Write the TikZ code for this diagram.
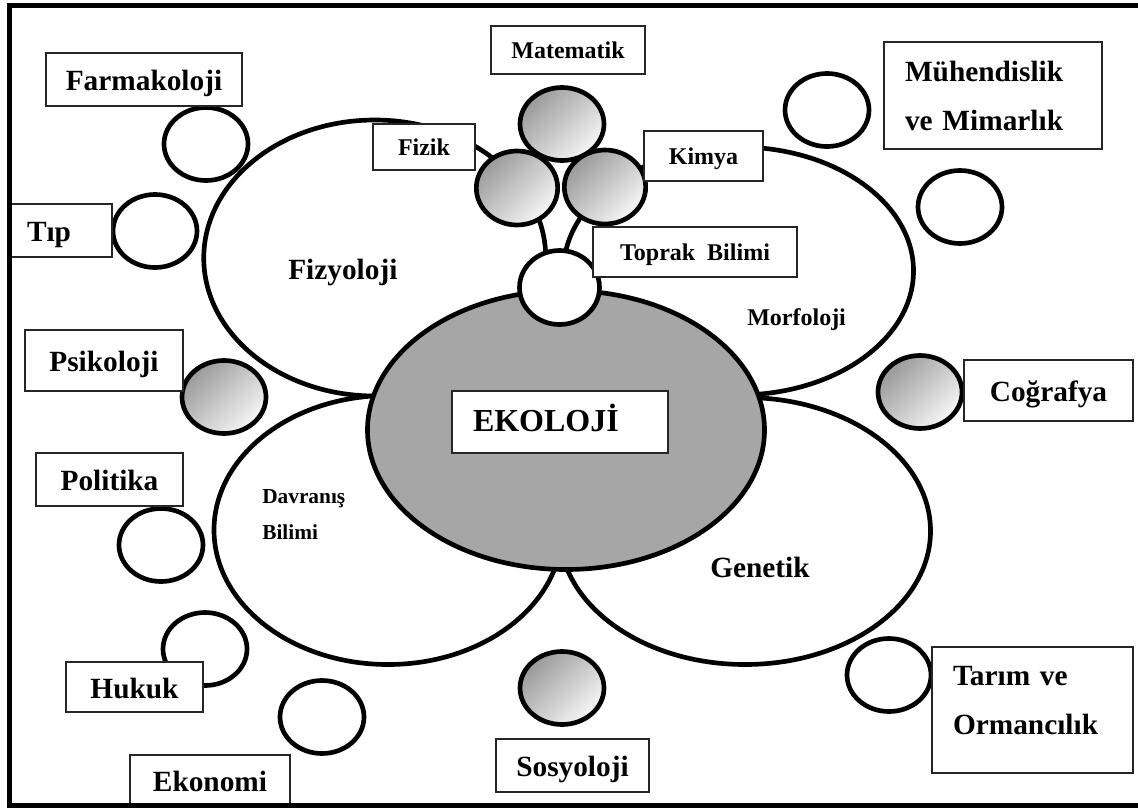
\documentclass[tikz,border=0pt]{standalone}
\usepackage{fontspec}
\setmainfont{Liberation Serif}
\usetikzlibrary{shapes.geometric}

\begin{document}
\begin{tikzpicture}[x=0.75pt, y=-0.75pt,
  alan/.style={ellipse, draw, line width=3.5pt, fill=white, inner sep=0pt},
  halka/.style={alan, minimum width=63pt, minimum height=54.75pt},
  golge/.style={halka, top color=black!40, bottom color=black!3, shading angle=45},
  kutu/.style={draw=black!85, line width=0.8pt, fill=white, inner sep=0pt, font=\bfseries\fontsize{22}{36.75}\selectfont, text height=17pt, text depth=0.5pt},
  kkutu/.style={kutu, font=\bfseries\fontsize{18}{22}\selectfont, text height=13.5pt, text depth=0.75pt},
  lab/.style={inner sep=0pt, anchor=base west, font=\bfseries\fontsize{22}{26}\selectfont}]
\useasboundingbox (0,0) rectangle (1138,807);
% four fields round the centre
\node[alan, minimum width=256.5pt, minimum height=207pt] (fizyoloji) at (374.75,258) {};
\node[alan, minimum width=262.5pt, minimum height=186pt] (morfoloji) at (738.5,271) {};
\node[alan, minimum width=261pt, minimum height=201.75pt] (davranis) at (388,530) {};
\node[alan, minimum width=278.25pt, minimum height=200.25pt] (genetik) at (745,531) {};
% centre
\node[alan, fill=black!35, minimum width=297.75pt, minimum height=209.25pt] (ekoloji) at (566,430) {};
\node[alan, minimum width=60pt, minimum height=55.5pt] (topc) at (559.5,287.5) {};
\node[golge] (matc) at (562,124) {};
\node[golge, minimum width=61pt, minimum height=55.5pt] (fizc) at (517,188) {};
\node[golge, minimum width=61pt, minimum height=55.5pt] (kimc) at (605,187) {};
% outer circles
\node[halka] (farc) at (206,144) {};
\node[halka] (tipc) at (155,231) {};
\node[halka] (muhc) at (827,110) {};
\node[halka] (sagc) at (960,207) {};
\node[golge] (psic) at (224,397) {};
\node[halka] (polc) at (161,545) {};
\node[halka] (hukc) at (205,649) {};
\node[halka] (ekoc) at (322,717) {};
\node[golge] (sosc) at (562,688) {};
\node[golge] (cogc) at (920,392) {};
\node[halka] (tarc) at (889,675) {};
% boxes
\node[kkutu, minimum width=115.5pt, minimum height=36pt] (mat) at (568,50) {Matematik};
\node[kkutu, minimum width=76.5pt, minimum height=34.5pt] (fiz) at (424,147) {Fizik};
\node[kkutu, minimum width=89.25pt, minimum height=37.5pt] (kim) at (703.5,156) {Kimya};
\node[kkutu, minimum width=153pt, minimum height=37.5pt] (top) at (695,252) {Toprak\ \ Bilimi};
\node[kutu, minimum width=147pt, minimum height=39.75pt] (far) at (144,79.5) {Farmakoloji};
\node[kutu, minimum height=39.75pt, text width=50.25pt, inner xsep=13.5pt, align=left] (tip) at (60.5,230.5) {Tıp};
\node[kutu, minimum height=80.25pt, text width=132pt, inner xsep=15.75pt, align=left, text height=, text depth=] (muh) at (993,95.5) {Mühendislik\\ve Mimarlık};
\node[kutu, minimum width=118.5pt, minimum height=45.75pt] (psi) at (104,360.5) {Psikoloji};
\node[kutu, minimum width=110.25pt, minimum height=39.75pt] (pol) at (109.5,479.5) {Politika};
\node[kutu, minimum width=102.75pt, minimum height=37.5pt] (huk) at (134.5,687) {Hukuk};
\node[kutu, minimum width=120pt, minimum height=37.5pt] (eko) at (210,780) {Ekonomi};
\node[kutu, minimum width=114.75pt, minimum height=39.75pt] (sos) at (572.5,765.5) {Sosyoloji};
\node[kutu, minimum width=126.75pt, minimum height=45.75pt] (cog) at (1048.5,390.5) {Coğrafya};
\node[kutu, minimum height=94.5pt, text width=119.25pt, inner xsep=15.75pt, align=left, text height=15pt, text depth=52.5pt] (tar) at (1032.5,710) {Tarım ve\\Ormancılık};
\node[kutu, font=\bfseries\fontsize{24}{28}\selectfont, minimum height=46.5pt, text width=130.5pt, inner xsep=15.75pt, align=left, text height=16.5pt, text depth=3pt] (ekol) at (560,422) {EKOLOJİ};
% field names
\node[lab] (fizl) at (288,279) {Fizyoloji};
\node[lab, font=\bfseries\fontsize{18}{22}\selectfont] (morl) at (747,325) {Morfoloji};
\node[lab] (genl) at (710,577) {Genetik};
\node[lab, font=\bfseries\fontsize{16}{27}\selectfont, align=left] (davl) at (262,539) {Davranış\\Bilimi};
% frame
\draw[line width=3.75pt] (9.5,5.5) rectangle (1150,805);
\end{tikzpicture}
\end{document}
